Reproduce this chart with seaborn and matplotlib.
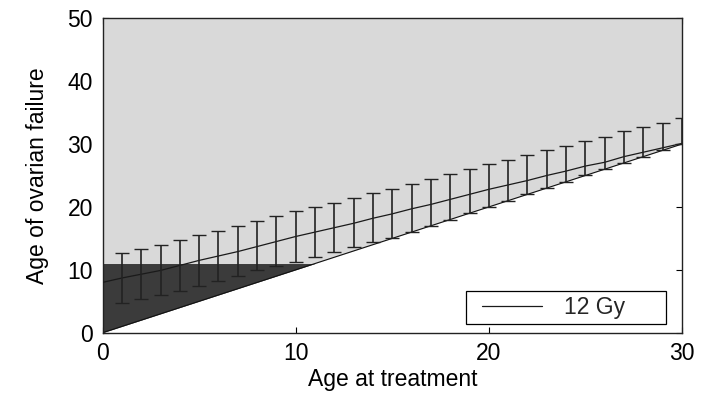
import matplotlib
matplotlib.use("Agg")
import matplotlib.pyplot as plt
from matplotlib.lines import Line2D
from matplotlib.legend_handler import HandlerLine2D
import numpy as np
import pandas as pd
import seaborn as sns

# Age at treatment (years) and the modelled age of ovarian failure for 12 Gy
age_line = [0, 1, 2, 3, 4, 5, 6, 7, 8, 9, 10, 11, 12, 13, 14, 15,
            16, 17, 18, 19, 20, 21, 22, 23, 24, 25, 26, 27, 28, 29, 30]
failure_mean = [8.0, 8.7, 9.3, 9.9, 10.7, 11.5, 12.2, 12.9, 13.7, 14.5, 15.3,
                16.0, 16.7, 17.4, 18.2, 18.9, 19.7, 20.4, 21.2, 22.0, 22.8,
                23.5, 24.2, 25.0, 25.7, 26.5, 27.1, 28.0, 28.7, 29.4, 30.1]

# Error bars at each year of age at treatment
age_bars = [1, 2, 3, 4, 5, 6, 7, 8, 9, 10, 11, 12, 13, 14, 15,
            16, 17, 18, 19, 20, 21, 22, 23, 24, 25, 26, 27, 28, 29, 30]
bar_upper = [12.7, 13.3, 13.9, 14.7, 15.5, 16.2, 16.9, 17.7, 18.5, 19.3,
             20.0, 20.7, 21.4, 22.2, 22.9, 23.7, 24.4, 25.2, 26.0, 26.8,
             27.5, 28.2, 29.0, 29.7, 30.5, 31.1, 32.0, 32.7, 33.4, 34.1]
bar_lower = [4.7, 5.4, 6.0, 6.7, 7.5, 8.3, 9.0, 9.9, 10.6, 11.3,
             12.1, 12.8, 13.6, 14.4, 15.1, 16.0, 17.0, 18.0, 19.0, 20.0,
             21.0, 22.0, 23.0, 24.0, 25.0, 26.0, 27.0, 28.0, 29.0, 30.0]

# Shaded zones: possible failure ages (above the diagonal) and childhood (< 11)
age_span = [0, 30]
age_max = 50
childhood_limit = 11

x_ticks = [0, 10, 20, 30]
y_ticks = [0, 10, 20, 30, 40, 50]
series_label = "12 Gy"

sns.set_theme(style="white")
plt.rcParams["font.family"] = ["Liberation Sans", "DejaVu Sans"]

FS = 16.5

fig = plt.figure(figsize=(7.03, 3.94), dpi=100)
ax = fig.add_axes([0.146, 0.1556, 0.824, 0.798])

light_grey = "#d9d9d9"
dark_grey = "#3b3b3b"

# possible region: ovarian failure after treatment age
diag = np.array(age_span, dtype=float)
ax.fill_between(diag, diag, age_max, color=light_grey, linewidth=0, zorder=1)
# failure before age 11
child = np.array([0, childhood_limit], dtype=float)
ax.fill_between(child, child, childhood_limit, color=dark_grey,
                linewidth=0, zorder=1.1)
ax.plot(diag, diag, color="#111111", linewidth=0.8, zorder=2)

df = pd.DataFrame({"age": age_line, "failure": failure_mean})
sns.lineplot(data=df, x="age", y="failure", ax=ax, color="#1a1a1a",
             linewidth=0.9, label=series_label, zorder=3)

mean_at_bars = np.array(failure_mean[1:])
upper = np.array(bar_upper)
lower = np.array(bar_lower)
ax.errorbar(age_bars, mean_at_bars,
            yerr=[mean_at_bars - lower, upper - mean_at_bars],
            fmt="none", ecolor="#222222", elinewidth=1.2, capsize=5,
            capthick=1.0, zorder=3, clip_on=True)

ax.set_xlim(0, 30)
ax.set_ylim(0, 50)
ax.set_xticks(x_ticks)
ax.set_yticks(y_ticks)
ax.tick_params(axis="both", which="both", direction="in", length=4,
               width=0.8, colors="black", labelsize=FS, pad=7,
               top=True, right=True, bottom=True, left=True)
ax.set_axisbelow(True)
for sp in ax.spines.values():
    sp.set_color("#222222")
    sp.set_linewidth(1.0)
    sp.set_visible(True)

ax.set_xlabel("Age at treatment", fontsize=FS, color="black", labelpad=2)
ax.set_ylabel("Age of ovarian failure", fontsize=FS, color="black", labelpad=13)

leg = ax.legend(loc="lower left", bbox_to_anchor=(0.627, 0.028, 0.346, 0.10),
                mode="expand", borderaxespad=0, fontsize=FS, frameon=True,
                fancybox=False, handlelength=3.1, handletextpad=0.95,
                borderpad=0.22,
                handler_map={Line2D: HandlerLine2D(xpad=0.5)})
leg.get_frame().set_edgecolor("black")
leg.get_frame().set_linewidth(0.9)
leg.get_frame().set_facecolor("white")
leg.get_frame().set_alpha(1)

fig.savefig("out.png", dpi=100, facecolor="white")
